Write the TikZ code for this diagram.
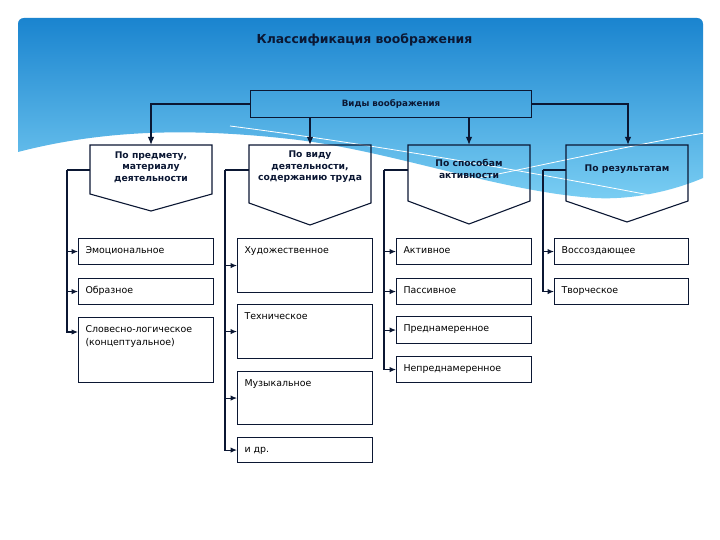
\documentclass[tikz,border=0pt]{standalone}
\usepackage{fontspec}
\setmainfont{DejaVu Sans}
\usetikzlibrary{arrows.meta,calc}
\definecolor{ink}{HTML}{0B1733}
\definecolor{bgtop}{HTML}{1A84CF}
\definecolor{bgmid}{HTML}{3CA9E7}
\definecolor{bgbot}{HTML}{7ACEF3}
\newcommand\bxt[3]{\parbox[c][#2pt][t]{#1pt}{\raggedright\rule{0pt}{15pt}#3}}
\begin{document}
\begin{tikzpicture}[x=1pt,y=-1pt,
  ln/.style={draw=ink,line width=1.1pt},
  arr/.style={ln,-{Latex[length=6.5pt,width=5.5pt]}},
  bigarr/.style={ln,line width=1.4pt,-{Latex[length=8pt,width=6.5pt]}},
  bx/.style={ln,fill=white,anchor=north west,inner xsep=7pt,inner ysep=0pt,text=black,font=\fontsize{9.4}{13}\selectfont},
  ptext/.style={align=center,text=ink,inner sep=0pt,font=\bfseries\fontsize{9.2}{11.5}\selectfont},
  pent/.style={ln}
]
\useasboundingbox (0,0) rectangle (720,540);
\fill[white] (0,0) rectangle (720,540);
% background
\shade[top color=bgtop,middle color=bgmid,bottom color=bgbot]
  (18,152) -- (18,24) .. controls (18,20.5) and (20.5,18) .. (24,18) -- (697,18)
  .. controls (700.5,18) and (703,20.5) .. (703,24) -- (703,178)
  .. controls (670,192) and (630,200) .. (595,198)
  .. controls (500,192) and (390,150) .. (290,139)
  .. controls (200,129) and (110,128) .. (18,152) -- cycle;
\begin{scope}
\clip (18,152) -- (18,24) .. controls (18,20.5) and (20.5,18) .. (24,18) -- (697,18)
  .. controls (700.5,18) and (703,20.5) .. (703,24) -- (703,178)
  .. controls (670,192) and (630,200) .. (595,198)
  .. controls (500,192) and (390,150) .. (290,139)
  .. controls (200,129) and (110,128) .. (18,152) -- cycle;
\draw[white,line width=0.8pt] (230,126) .. controls (400,148) and (560,178) .. (660,197);
\draw[white,line width=0.8pt] (420,190) .. controls (540,166) and (640,143) .. (705,133);
\end{scope}
% title
\node[anchor=base,text=ink,font=\bfseries\fontsize{12.4}{14}\selectfont] (title) at (364.5,44) {Классификация воображения};
% top box
\node[ln,anchor=north west,minimum width=281pt,minimum height=27pt,inner sep=0pt,text=ink,font=\bfseries\fontsize{8.7}{10}\selectfont] (top) at (250,90) {Виды воображения};
% pentagons
\draw[pent] (90,145) -- (212,145) -- (212,194) -- (151,211) -- (90,194) -- cycle;
\draw[pent] (249,145) -- (371,145) -- (371,203) -- (310,225) -- (249,203) -- cycle;
\draw[pent] (408,145) -- (530,145) -- (530,201) -- (469,224) -- (408,201) -- cycle;
\draw[pent] (566,145) -- (688,145) -- (688,201) -- (627,222) -- (566,201) -- cycle;
\node[ptext] (p1) at (151,167) {По предмету,\\материалу\\деятельности};
\node[ptext] (p2) at (310,167) {По виду\\деятельности,\\содержанию труда};
\node[ptext] (p3) at (469,169) {По способам\\активности};
\node[ptext] (p4) at (627,169) {По результатам};
\coordinate (p1n) at (151,145);
\coordinate (p2n) at (310,145);
\coordinate (p3n) at (469,145);
\coordinate (p4n) at (628,145);
\coordinate (p1w) at (90,170);
\coordinate (p2w) at (249,170);
\coordinate (p3w) at (408,170);
\coordinate (p4w) at (566,170);
\coordinate (b1) at (67,170);
\coordinate (b2) at (225,170);
\coordinate (b3) at (384,170);
\coordinate (b4) at (543,170);
% boxes
\node[bx] (e1) at (78,238) {\bxt{121}{26}{Эмоциональное}};
\node[bx] (e2) at (78,278) {\bxt{121}{26}{Образное}};
\node[bx] (e3) at (78,317) {\bxt{121}{65}{Словесно-логическое\\(концептуальное)}};
\node[bx] (f1) at (237,238) {\bxt{121}{54}{Художественное}};
\node[bx] (f2) at (237,304) {\bxt{121}{54}{Техническое}};
\node[bx] (f3) at (237,371) {\bxt{121}{53}{Музыкальное}};
\node[bx] (f4) at (237,437) {\bxt{121}{25}{и др.}};
\node[bx] (g1) at (396,238) {\bxt{121}{26}{Активное}};
\node[bx] (g2) at (396,278) {\bxt{121}{26}{Пассивное}};
\node[bx] (g3) at (396,316) {\bxt{121}{27}{Преднамеренное}};
\node[bx] (g4) at (396,356) {\bxt{121}{26}{Непреднамеренное}};
\node[bx] (h1) at (554,238) {\bxt{120}{26}{Воссоздающее}};
\node[bx] (h2) at (554,278) {\bxt{120}{26}{Творческое}};
% connectors from top box
\draw[bigarr] (top.west) -| (p1n);
\draw[bigarr] (top.east) -| (p4n);
\draw[bigarr] (top.south -| p2n) -- (p2n);
\draw[bigarr] (top.south -| p3n) -- (p3n);
% group buses
\draw[ln] (p1w) -- (b1);
\draw[ln] (p2w) -- (b2);
\draw[ln] (p3w) -- (b3);
\draw[ln] (p4w) -- (b4);
\draw[arr] (b1) |- (e1.west);
\draw[arr] (b1) |- (e2.west);
\draw[arr] (b1) |- ($(e3.north west)+(0,15)$);
\draw[arr] (b2) |- (f1.west);
\draw[arr] (b2) |- (f2.west);
\draw[arr] (b2) |- (f3.west);
\draw[arr] (b2) |- (f4.west);
\draw[arr] (b3) |- (g1.west);
\draw[arr] (b3) |- (g2.west);
\draw[arr] (b3) |- (g3.west);
\draw[arr] (b3) |- (g4.west);
\draw[arr] (b4) |- (h1.west);
\draw[arr] (b4) |- (h2.west);
\end{tikzpicture}
\end{document}
